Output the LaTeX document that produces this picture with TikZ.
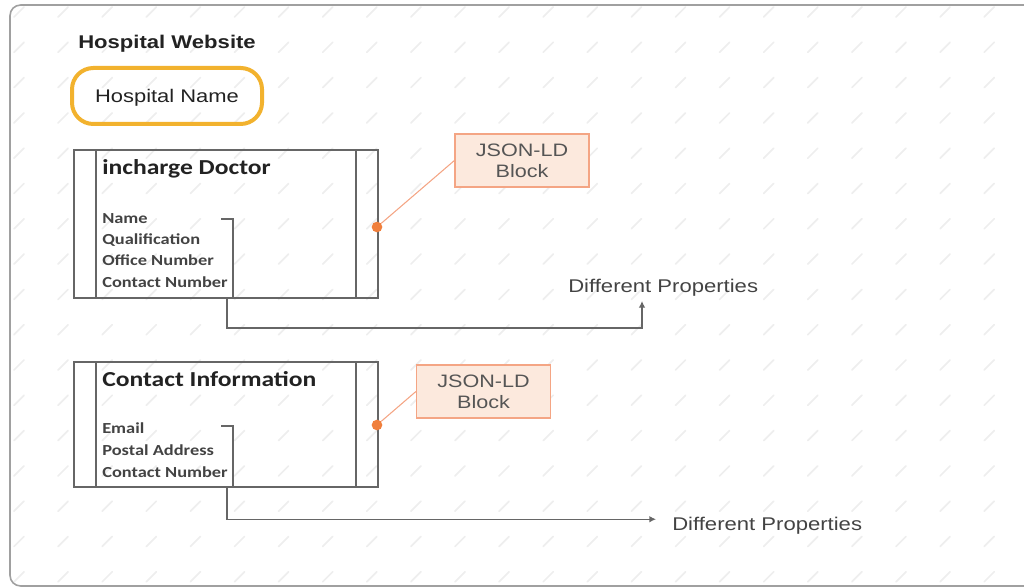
\documentclass[tikz,border=0pt]{standalone}
\usepackage{fontspec}
\usetikzlibrary{arrows.meta,calc}
\newfontfamily\arialw{Liberation Sans}[FakeStretch=1.2]
\newfontfamily\calw{Carlito}[FakeStretch=1.2]
\definecolor{linegray}{HTML}{666666}
\definecolor{framegray}{HTML}{A0A0A0}
\definecolor{gold}{HTML}{F2B22E}
\definecolor{dotorange}{HTML}{F07F3C}
\definecolor{salmon}{HTML}{F4A584}
\definecolor{peach}{HTML}{FCE9DD}
\definecolor{txtdark}{HTML}{222222}
\definecolor{txtgray}{HTML}{555555}
\definecolor{wm}{HTML}{EEEEEE}
\tikzset{
  mainbox/.style={draw=linegray, line width=1.1pt, minimum width=228pt, inner sep=0pt},
  namebox/.style={draw=gold, line width=3pt, rounded corners=16pt, minimum width=142.5pt, minimum height=42pt, inner sep=0pt, text height=10pt, text depth=0pt, font=\arialw\fontsize{13.7}{16}\selectfont, text=txtdark},
  jbox/.style={draw=salmon, fill=peach, line width=0.9pt, minimum width=100.5pt, minimum height=39.75pt, inner sep=0pt, align=center, font=\arialw\fontsize{13.5}{15.75}\selectfont, text=txtgray},
  titletext/.style={anchor=base west, inner sep=0pt, font=\calw\bfseries\fontsize{16}{19}\selectfont, text=txtdark},
  itemtext/.style={anchor=base west, inner sep=0pt, font=\calw\bfseries\fontsize{11.5}{14}\selectfont, text=txtdark!85},
  proptext/.style={anchor=base west, inner sep=0pt, font=\arialw\fontsize{13.8}{16}\selectfont, text=txtdark!85},
  jdot/.style={circle, fill=dotorange, inner sep=0pt, minimum size=8pt},
  jline/.style={draw=salmon, line width=0.8pt},
  conn/.style={draw=linegray, line width=1.1pt},
  connarrow/.style={conn, -{Latex[length=5pt,width=5pt]}}
}
\begin{document}
\begin{tikzpicture}[x=0.75pt,y=-0.75pt]
\useasboundingbox (0,0) rectangle (1024,588);
% watermark marks
\foreach \i in {0,...,23}{
  \foreach \j in {0,...,16}{
    \draw[wm, line width=1.3pt, line cap=round] ({19+44.1*\i-5},{12+35.3*\j+5}) -- ({19+44.1*\i+5},{12+35.3*\j-5});
  }
}
% outer frame
\draw[framegray, line width=1.2pt, rounded corners=8pt] (10,5) rectangle (1040,586);

% title
\node[anchor=base west, inner sep=0pt, font=\arialw\bfseries\fontsize{13.8}{16}\selectfont, text=txtdark] (site) at (78,49) {Hospital Website};
\node[namebox] (hname) at (167,96) {Hospital Name};

% doctor box
\node[mainbox, minimum height=111pt] (doc) at (226,224) {};
\draw[linegray, line width=1.1pt] (96,150) -- (96,298) (356,150) -- (356,298);
\node[titletext] (doct) at (102,175) {incharge Doctor};
\node[itemtext] (d1) at (102,223) {Name};
\node[itemtext] (d2) at (102,244) {Qualification};
\node[itemtext] (d3) at (102,265) {Office Number};
\node[itemtext] (d4) at (102,287) {Contact Number};

% contact box
\node[mainbox, minimum height=93.75pt] (con) at (226,424.5) {};
\draw[linegray, line width=1.1pt] (96,362) -- (96,487) (356,362) -- (356,487);
\node[titletext] (cont) at (102,386) {Contact Information};
\node[itemtext] (c1) at (102,433) {Email};
\node[itemtext] (c2) at (102,455) {Postal Address};
\node[itemtext] (c3) at (102,477) {Contact Number};

% JSON-LD blocks
\node[jbox] (j1) at (522,160.5) {JSON-LD\\Block};
\node[jbox] (j2) at (483.5,391.5) {JSON-LD\\Block};
\node[jdot] (dot1) at (377,227) {};
\node[jdot] (dot2) at (377,425) {};
\draw[jline] (dot1) -- (j1.west);
\draw[jline] (dot2) -- (j2.west);

% property labels
\node[proptext] (p1) at (568,292) {Different Properties};
\node[proptext] (p2) at (672,530) {Different Properties};

% brackets and connectors
\coordinate (b1) at (233,298);
\coordinate (b2) at (233,487);
\draw[conn] (221,219) -- (233,219) -- (b1);
\draw[conn] (221,426) -- (233,426) -- (b2);
\coordinate (a1) at (642,301);
\draw[connarrow] (227,298) -- (227,328) -| (a1);
\draw[connarrow] (227,487) |- ($(p2.west)+(-16,-6)$);
\end{tikzpicture}
\end{document}
